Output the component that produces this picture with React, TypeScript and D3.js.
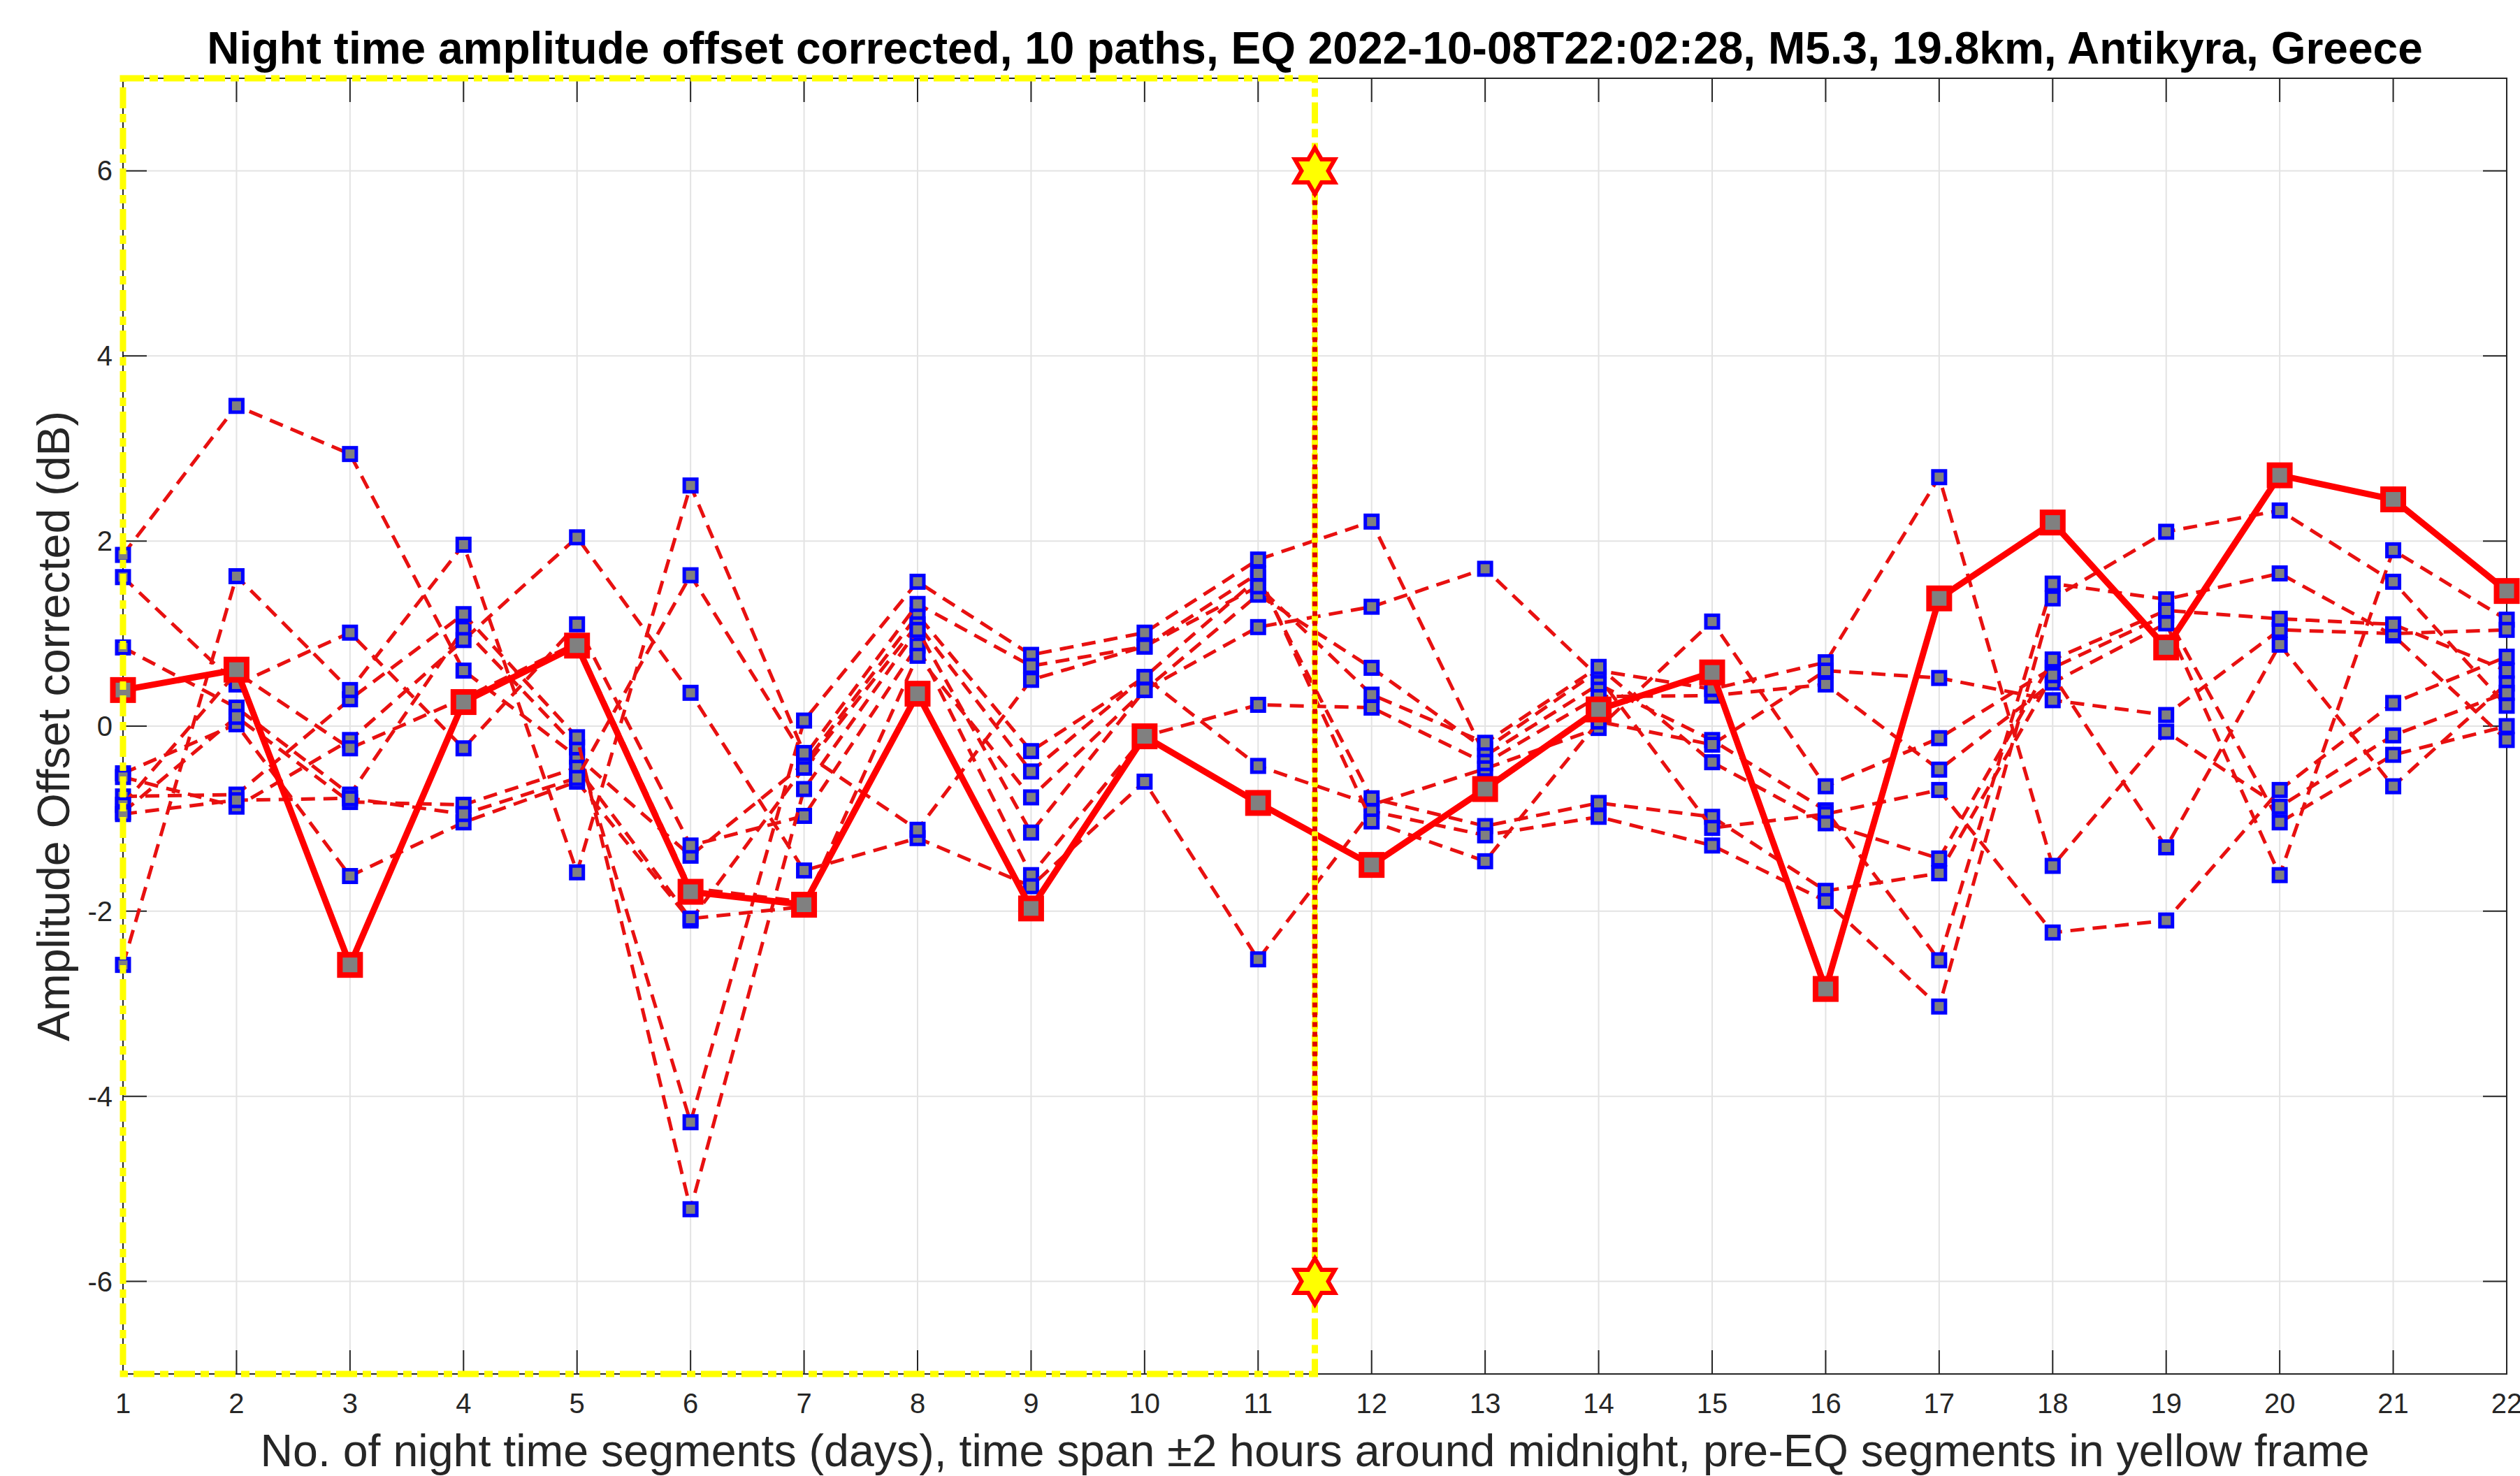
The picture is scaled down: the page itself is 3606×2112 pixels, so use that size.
import React from 'react';
import * as d3 from 'd3';

// ---------- data ----------
const days = [1, 2, 3, 4, 5, 6, 7, 8, 9, 10, 11, 12, 13, 14, 15, 16, 17, 18, 19, 20, 21, 22];
const yTicks = [-6, -4, -2, 0, 2, 4, 6];

const path1 = [1.85, 3.46, 2.94, 0.60, -0.33, -1.40, -0.41, 1.20, -0.27, 0.53, -0.43, -0.85, -0.46, -0.02, 1.13, -0.65, -0.13, 0.63, 1.20, -1.04, -0.31, 0.00];
const path2 = [1.61, 0.45, 1.01, -0.24, 1.10, -1.29, -0.97, 0.87, -1.61, -0.11, 0.23, 0.20, -0.40, 0.32, 0.33, 0.45, -0.47, 0.47, 1.11, -1.61, 1.90, 1.15];
const path3 = [0.85, 0.20, -0.74, 1.05, -0.23, -4.28, 0.06, 1.56, 0.77, 1.01, 1.80, 2.21, -0.32, 0.45, -0.15, -0.91, -2.53, 1.54, 1.37, 1.65, 0.98, -0.15];
const path4 = [-0.51, 0.02, -1.62, -1.04, -0.60, -2.10, -0.45, 1.10, -0.49, 0.53, 1.60, -0.78, -1.08, -0.83, -0.98, -1.78, -1.59, 0.55, -1.31, 0.88, -0.65, 0.46];
const path5 = [-0.55, -0.87, -0.15, 0.93, 2.04, 0.36, -1.56, -1.21, -1.73, -0.60, -2.52, -0.92, -1.18, -0.98, -1.29, -1.89, -3.03, 1.38, 2.10, 2.33, 1.56, 0.22];
const path6 = [-0.76, -0.74, 0.29, 1.21, -0.12, -5.22, -0.68, 1.04, -1.15, 0.39, 1.07, 1.29, 1.70, 0.53, -1.10, -0.95, -0.69, -2.23, -2.10, -0.69, 0.25, 0.75];
const path7 = [-0.85, 0.58, -0.24, 0.30, 0.90, -1.75, -1.90, 0.35, -1.95, -0.11, -0.83, -1.50, -0.68, 0.18, 0.58, -2.84, 1.38, 2.20, 0.85, 2.71, 2.45, 1.46];
const path8 = [-0.93, 0.10, -0.82, -0.85, -0.45, -2.08, -1.95, 0.76, -0.77, 0.39, 1.42, 0.63, -0.25, 0.60, 0.40, 0.69, 2.69, -1.51, -0.06, -0.87, -0.10, 0.36];
const path9 = [-0.95, -0.80, -0.78, -0.95, -0.56, 1.63, -0.33, 1.32, 0.65, 0.86, 1.65, -1.03, -1.46, 0.05, -0.20, 0.60, 0.52, 0.28, 0.12, 1.04, 1.00, 1.04];
const path10 = [-2.58, 1.62, 0.39, 1.96, -1.58, 2.60, -0.29, -1.12, 0.50, 0.86, 1.51, 0.34, -0.18, 0.64, -0.39, -1.05, -1.43, 0.72, 1.25, 1.16, 1.10, 0.60];

const meanAmplitude = [0.39, 0.61, -2.58, 0.26, 0.87, -1.79, -1.93, 0.35, -1.97, -0.11, -0.83, -1.50, -0.68, 0.18, 0.58, -2.84, 1.38, 2.20, 0.85, 2.71, 2.45, 1.46];

const eqPosition = 11.5;
const starLevels = [6, -6];
const preEqFrame = [1, 11.5];

const titleText = 'Night time amplitude offset corrected, 10 paths, EQ 2022-10-08T22:02:28, M5.3, 19.8km, Antikyra, Greece';
const xLabelText = 'No. of night time segments (days), time span \u00B12 hours around midnight, pre-EQ segments in yellow frame';
const yLabelText = 'Amplitude Offset corrected (dB)';

// ---------- layout ----------
const W = 3606;
const H = 2112;
const L = 176, R = 3587, T = 112, B = 1966;
const FONT = '"Liberation Sans", Arial, Helvetica, sans-serif';
const AX = '#262626';

function hexagram(cx: number, cy: number, Ro: number) {
  const ri = Ro / Math.sqrt(3);
  const pts: string[] = [];
  for (let k = 0; k < 12; k++) {
    const a = (-90 + k * 30) * Math.PI / 180;
    const rr = k % 2 === 0 ? Ro : ri;
    pts.push(`${cx + rr * Math.cos(a)},${cy + rr * Math.sin(a)}`);
  }
  return 'M' + pts.join('L') + 'Z';
}

export default function App() {
  const x = d3.scaleLinear().domain([1, 22]).range([L, R]);
  const y = d3.scaleLinear().domain([-7, 7]).range([B, T]);
  const paths = [path1, path2, path3, path4, path5, path6, path7, path8, path9, path10];
  const line = d3.line<number>().x((_, i) => x(days[i])).y((d) => y(d));
  const tickLen = 34;
  const blueS = 18;
  const redS = 29;

  return (
    <svg width={W} height={H} style={{ position: 'absolute', left: 0, top: 0, background: '#fff' }} xmlns="http://www.w3.org/2000/svg">
      <rect x={0} y={0} width={W} height={H} fill="#fff" />
      {/* grid */}
      {days.map((d) => (
        <line key={'gx' + d} x1={x(d)} x2={x(d)} y1={T} y2={B} stroke="#e3e3e3" strokeWidth={2} />
      ))}
      {yTicks.map((v) => (
        <line key={'gy' + v} x1={L} x2={R} y1={y(v)} y2={y(v)} stroke="#e3e3e3" strokeWidth={2} />
      ))}
      {/* box */}
      <rect x={L} y={T} width={R - L} height={B - T} fill="none" stroke={AX} strokeWidth={2} />
      {/* ticks */}
      {days.map((d) => (
        <g key={'tx' + d}>
          <line x1={x(d)} x2={x(d)} y1={B} y2={B - tickLen} stroke={AX} strokeWidth={2} />
          <line x1={x(d)} x2={x(d)} y1={T} y2={T + tickLen} stroke={AX} strokeWidth={2} />
          <text x={x(d)} y={2022} textAnchor="middle" fontFamily={FONT} fontSize={40} fill={AX}>{d}</text>
        </g>
      ))}
      {yTicks.map((v) => (
        <g key={'ty' + v}>
          <line x1={L} x2={L + tickLen} y1={y(v)} y2={y(v)} stroke={AX} strokeWidth={2} />
          <line x1={R} x2={R - tickLen} y1={y(v)} y2={y(v)} stroke={AX} strokeWidth={2} />
          <text x={161} y={y(v) + 14} textAnchor="end" fontFamily={FONT} fontSize={40} fill={AX}>{v}</text>
        </g>
      ))}
      {/* individual paths */}
      {paths.map((p, k) => (
        <g key={'p' + k}>
          <path d={line(p) || ''} fill="none" stroke="#e81010" strokeWidth={5} strokeDasharray="20,12" />
          {p.map((v, i) => (
            <rect key={i} x={x(days[i]) - blueS / 2} y={y(v) - blueS / 2} width={blueS} height={blueS} fill="#808080" stroke="#0000ff" strokeWidth={5} />
          ))}
        </g>
      ))}
      {/* mean line */}
      <path d={line(meanAmplitude) || ''} fill="none" stroke="#ff0000" strokeWidth={9} strokeLinejoin="round" />
      {meanAmplitude.map((v, i) => (
        <rect key={'m' + i} x={x(days[i]) - redS / 2} y={y(v) - redS / 2} width={redS} height={redS} fill="#808080" stroke="#ff0000" strokeWidth={8} />
      ))}
      {/* pre-EQ frame */}
      <rect x={x(preEqFrame[0])} y={T} width={x(preEqFrame[1]) - x(preEqFrame[0])} height={B - T} fill="none" stroke="#ffff00" strokeWidth={9} strokeDasharray="30,8,12,8" />
      {/* EQ line */}
      <line x1={x(eqPosition)} x2={x(eqPosition)} y1={y(starLevels[0])} y2={y(starLevels[1])} stroke="#ffff00" strokeWidth={7} />
      <line x1={x(eqPosition)} x2={x(eqPosition)} y1={y(starLevels[0])} y2={y(starLevels[1])} stroke="#e00000" strokeWidth={7} strokeDasharray="7,7" />
      {starLevels.map((s) => (
        <path key={'s' + s} d={hexagram(x(eqPosition), y(s), 33)} fill="#ffff00" stroke="#ff0000" strokeWidth={6} strokeLinejoin="miter" />
      ))}
      {/* labels */}
      <text x={(L + R) / 2} y={91} textAnchor="middle" fontFamily={FONT} fontWeight="bold" fontSize={64} fill="#000">{titleText}</text>
      <text x={(L + R) / 2} y={2098} textAnchor="middle" fontFamily={FONT} fontSize={64.5} fill={AX}>{xLabelText}</text>
      <text transform={`translate(99,${(T + B) / 2}) rotate(-90)`} textAnchor="middle" fontFamily={FONT} fontSize={64.5} fill={AX}>{yLabelText}</text>
    </svg>
  );
}
